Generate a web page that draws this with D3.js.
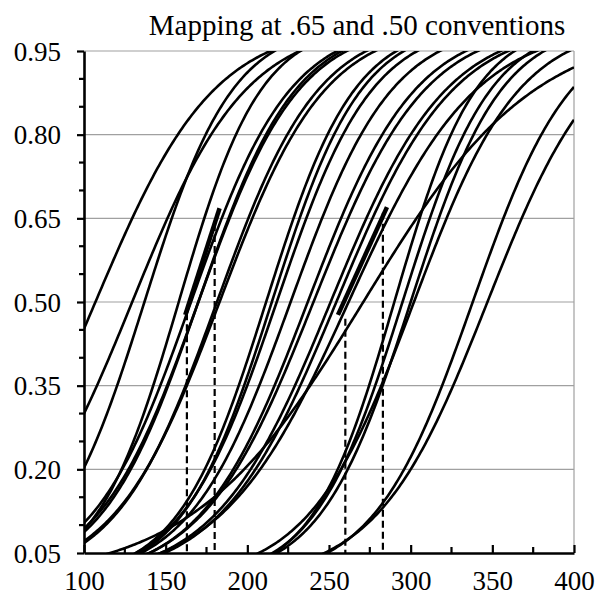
<!DOCTYPE html>
<html>
<head>
<meta charset="utf-8">
<script src="https://cdn.jsdelivr.net/npm/d3@7"></script>
<style>
  body { margin: 0; background: #fff; }
  text { font-family: "Liberation Serif", "Times New Roman", serif; fill: #000; }
</style>
</head>
<body>
<svg id="chart" width="595" height="597"></svg>
<script>
// chart values
const title = "Mapping at .65 and .50 conventions";
const xTicks = [100, 150, 200, 250, 300, 350, 400];
const yTicks = [0.05, 0.20, 0.35, 0.50, 0.65, 0.80, 0.95];

// each curve: point where it crosses .50, and its slope
const curveLocation = [107, 129.5, 137, 158, 165.5, 170, 170, 181.4, 183,
  211.5, 215, 218, 226.5, 237, 240.5, 251, 254.5, 262,
  290, 295, 300, 338, 347, 271, 302];
const curveSlope = [0.0275, 0.0287, 0.037, 0.0396, 0.0329, 0.0335, 0.0324, 0.0322, 0.0309,
  0.0369, 0.0364, 0.0342, 0.0322, 0.0304, 0.0293, 0.0283, 0.028, 0.0256,
  0.04, 0.037, 0.036, 0.033, 0.0295, 0.019, 0.031];

// bold segments (.50 -> .65) and the dashed drop lines under them
const segX0 = [162, 255.5];
const segP0 = [0.477, 0.477];
const segX1 = [183, 285.5];
const segP1 = [0.668, 0.67];
const dropX = [163, 180, 260, 283];
const dropP = [0.48, 0.64, 0.47, 0.66];

const svg = d3.select("#chart");
const mLeft = 84, mRight = 574, mTop = 51, mBottom = 553;

const x = d3.scaleLinear().domain([100, 400]).range([mLeft, mRight]);
const y = d3.scaleLinear().domain([0.05, 0.95]).range([mBottom, mTop]);

svg.append("defs").append("clipPath").attr("id", "plot")
  .append("rect").attr("x", mLeft).attr("y", mTop)
  .attr("width", mRight - mLeft).attr("height", mBottom - mTop);

// grid
svg.append("g").selectAll("line").data(yTicks.slice(1)).join("line")
  .attr("x1", mLeft).attr("x2", mRight)
  .attr("y1", d => y(d)).attr("y2", d => y(d))
  .attr("stroke", "#a0a0a0").attr("stroke-width", 1.2);
svg.append("line")
  .attr("x1", mRight).attr("x2", mRight).attr("y1", mTop).attr("y2", mBottom)
  .attr("stroke", "#a0a0a0").attr("stroke-width", 1.2);

// curves
const logistic = (b, a) => v => 1 / (1 + Math.exp(-a * (v - b)));
const xs = d3.range(100, 400.5, 1);
const line = d3.line().x(d => x(d[0])).y(d => y(d[1]));

svg.append("g").attr("clip-path", "url(#plot)")
  .selectAll("path").data(curveLocation).join("path")
  .attr("d", (b, i) => {
    const f = logistic(b, curveSlope[i]);
    return line(xs.map(v => [v, f(v)]));
  })
  .attr("fill", "none").attr("stroke", "#000").attr("stroke-width", 2.6);

// dashed drop lines
svg.append("g").selectAll("line").data(dropX).join("line")
  .attr("x1", d => x(d)).attr("x2", d => x(d))
  .attr("y1", (d, i) => y(dropP[i])).attr("y2", y(0.05))
  .attr("stroke", "#000").attr("stroke-width", 2.2).attr("stroke-dasharray", "7,4");

// bold segments
svg.append("g").selectAll("line").data(segX0).join("line")
  .attr("x1", d => x(d)).attr("y1", (d, i) => y(segP0[i]))
  .attr("x2", (d, i) => x(segX1[i])).attr("y2", (d, i) => y(segP1[i]))
  .attr("stroke", "#000").attr("stroke-width", 4.5);

// axes
const xMinor = d3.range(125, 400, 50);
const yMinor = d3.range(0.10, 0.95, 0.05).filter(v => !yTicks.some(t => Math.abs(t - v) < 1e-6));

const gx = svg.append("g").attr("transform", `translate(0,${mBottom})`)
  .call(d3.axisBottom(x).tickValues(xTicks).tickSizeInner(-8).tickSizeOuter(0).tickFormat(d3.format("d")));
gx.append("g").selectAll("line").data(xMinor).join("line")
  .attr("x1", d => x(d)).attr("x2", d => x(d)).attr("y1", 0).attr("y2", -6);

const gy = svg.append("g").attr("transform", `translate(${mLeft},0)`)
  .call(d3.axisLeft(y).tickValues(yTicks).tickSizeInner(7).tickSizeOuter(0).tickFormat(d3.format(".2f")));
gy.append("g").selectAll("line").data(yMinor).join("line")
  .attr("x1", 0).attr("x2", -5).attr("y1", d => y(d)).attr("y2", d => y(d));

[gx, gy].forEach(g => {
  g.select(".domain").attr("stroke", "#000").attr("stroke-width", 2.6);
  g.selectAll("line").attr("stroke", "#000").attr("stroke-width", 2.2);
  g.selectAll("text").attr("font-size", 27).attr("font-family", "Liberation Serif");
});
gx.selectAll(".tick text").attr("y", 0).attr("dy", 0)
  .attr("transform", "translate(0,37)");
gy.selectAll(".tick text").attr("x", -23).attr("dy", "0.34em");

svg.append("text").attr("x", 357).attr("y", 35).attr("text-anchor", "middle")
  .attr("font-size", 29).text(title);
</script>
</body>
</html>
